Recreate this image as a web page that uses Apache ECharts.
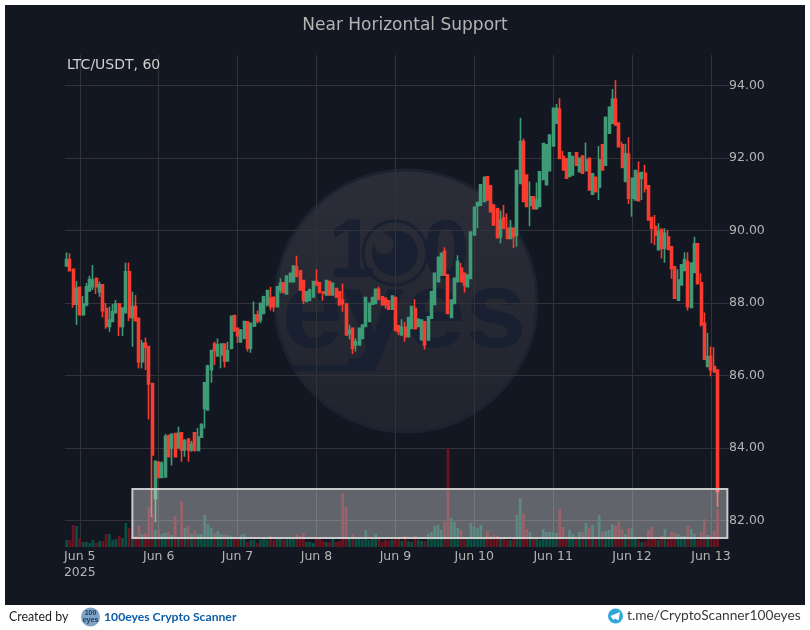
<!DOCTYPE html>
<html>
<head>
    <meta charset="utf-8">
    <title>Near Horizontal Support</title>
    <script src="https://cdn.jsdelivr.net/npm/echarts@6/dist/echarts.min.js"></script>
    <style>
        html, body { margin: 0; padding: 0; background: #fff; }
        #main { width: 810px; height: 630px; }
    </style>
</head>
<body>
<div id="main"></div>
<script>
    // hourly bars, first one is Jun 4 20:00
    var opens = [
        89.02,89.2,88.93,87.97,88.43,87.68,87.95,88.34,88.45,88.68,
        88.31,88.5,87.85,87.35,87.49,87.73,87.97,87.35,87.73,88.86,
        87.6,87.9,87.58,86.38,86.89,86.8,85.78,82.6,83.6,83.19,
        83.2,84.33,84.0,84.4,84.0,84.42,83.95,84.25,83.95,84.42,
        83.93,84.3,85.09,85.05,86.16,86.87,86.54,86.57,86.87,86.4,
        86.75,87.65,87.3,86.93,87.03,87.48,86.75,87.37,87.67,87.53,
        87.71,87.95,88.13,88.16,87.9,88.36,88.56,88.25,88.59,88.59,
        89,88.89,88.62,88.04,88.08,88.17,88.59,88.56,88.31,88.22,
        88.59,88.22,88.4,88.31,88.08,87.97,87.16,87.3,86.84,86.84,
        87.03,87.35,87.49,87.97,87.99,88.38,88.17,88.13,88.06,87.83,
        88.15,87.37,87.12,87.33,87.07,87.3,87.85,87.35,87.0,87.48,
        86.98,87.58,87.96,88.59,88.77,89.42,88.77,87.6,87.99,88.6,
        88.96,88.82,88.45,88.68,89.88,90.68,90.7,90.8,91.48,91.23,
        90.7,90.6,89.83,90.34,90.06,89.78,90.06,89.87,91.3,92.45,
        91.53,90.7,90.93,90.6,90.66,91.41,91.26,91.65,92.33,92.96,
        93.34,92.04,91.98,91.49,91.53,92.14,91.62,92.05,91.65,91.99,
        91,91.47,91.2,92.36,91.8,92.68,92.96,93.62,92.96,92.36,
        91.35,92.11,90.89,90.84,91.58,91.44,91.58,91.23,90.36,90.11,
        89.47,90.03,89.51,89.82,89.55,89,88.08,88.5,88.9,89.14,
        87.88,88.84,89.63,88.56,87.44,86.25,86.52,86.25,86.15
    ];
    var closes = [
        89.2,88.89,87.97,88.4,87.68,87.97,88.45,88.65,88.63,88.45,
        88.5,87.79,87.35,87.53,87.76,87.97,87.35,87.86,88.86,87.6,
        87.9,87.51,86.38,86.89,86.78,85.77,83.81,83.62,83.19,83.58,
        84.31,83.76,84.38,83.76,84.4,83.95,84.2,83.95,84.1,83.95,
        84.3,84.65,85.8,86.26,86.69,86.69,86.85,86.87,86.4,86.68,
        87.63,87.24,87.1,87.25,87.49,86.75,87.44,87.67,87.5,87.99,
        88.17,88.34,87.9,87.9,88.45,88.54,88.29,88.74,88.82,89.02,
        88.73,88.36,88.08,88.31,88.36,88.59,88.5,88.29,88.27,88.62,
        88.22,88.54,88.17,87.95,87.99,87.12,87.25,86.75,86.93,87.3,
        87.39,88.15,87.99,88.15,88.38,88.1,87.95,87.95,87.83,88.19,
        87.24,87.21,87.33,87.07,87.6,87.9,87.3,87.55,87.53,86.84,
        87.62,88.31,88.82,89.26,89.37,88.77,87.71,88.08,88.68,89.14,
        88.59,88.5,88.77,89.96,90.64,90.77,91.26,91.47,90.84,90.52,
        90.15,89.8,90.29,90.06,89.78,90.06,89.83,91.65,92.45,90.8,
        90.66,90.93,90.6,90.84,91.62,92.4,92.36,92.63,93.37,93.37,
        91.99,91.67,91.44,92.14,92.04,91.8,91.99,91.58,91.94,91.12,
        91.56,91.07,91.94,91.67,93.12,93.4,93.62,92.91,92.31,91.74,
        92.11,90.89,91.44,91.65,90.82,91.6,91.16,90.29,90.06,89.87,
        89.97,89.51,89.92,89.48,88.95,88.13,88.63,89.05,89.19,87.9,
        89.1,89.63,88.53,87.4,86.45,86.52,86.15,86.1,82.8
    ];
    var lows = [
        89.02,88.89,87.87,87.39,87.67,87.65,87.9,88.3,88.36,88.25,
        88.17,87.6,87.29,87.21,87.49,87.71,87.09,87.09,87.71,87.5,
        86.79,87.51,86.19,86.2,86.15,84.79,82.1,81.95,83.19,83.19,
        83.19,83.76,83.52,83.76,84.0,83.62,83.76,83.62,83.9,83.9,
        83.93,84.28,84.54,85.05,85.8,86.29,86.54,86.2,86.22,86.4,
        86.72,87.2,86.9,86.9,87.0,86.66,86.63,87.34,87.44,87.44,
        87.7,87.9,87.79,87.76,87.88,88.27,88.27,88.23,88.57,88.57,
        88.72,88.35,87.97,88.02,88.06,88.15,88.48,88.27,88.06,88.2,
        88.2,88.2,88.15,87.93,87.76,87.1,87.0,86.59,86.66,86.82,
        87.0,87.33,87.47,87.95,87.97,88.08,87.93,87.85,87.81,87.81,
        87.22,87.12,87.1,86.93,87.05,87.28,87.26,87.33,86.95,86.72,
        86.96,87.56,87.94,88.57,88.75,88.75,87.69,87.58,87.97,88.56,
        88.57,88.29,88.43,88.66,89.86,90.06,90.68,90.78,90.82,90.5,
        90.13,89.78,89.65,90.04,89.76,89.76,89.52,89.55,91.28,90.78,
        90.64,90.12,90.58,90.58,90.64,91.39,91.24,91.63,92.31,92.94,
        91.97,91.65,91.42,91.47,91.51,91.78,91.6,91.56,91.63,91.1,
        90.98,91.05,90.84,91.65,91.78,92.66,92.94,92.89,92.29,91.72,
        91.33,90.73,90.38,90.82,90.8,90.84,91.05,90.27,89.65,89.6,
        89.45,89.23,89.11,89.46,88.67,88.11,88.06,88.48,88.88,87.79,
        87.86,88.82,88.51,87.35,86.43,86.23,85.98,86.08,82.37
    ];
    var highs = [
        89.39,89.37,88.93,88.61,88.45,88.19,88.55,88.75,89.05,88.68,
        88.59,88.5,88.0,87.9,87.97,88.08,88.0,87.88,89.11,89.12,
        88.31,88.22,87.58,86.98,87.05,86.8,85.78,83.67,83.64,83.63,
        84.39,84.37,84.41,84.42,84.59,84.42,84.25,84.27,84.2,84.42,
        84.55,84.68,85.8,86.3,86.7,86.93,87.02,86.87,86.87,86.93,
        87.65,87.68,87.3,87.28,87.5,87.48,87.44,88.04,87.79,88.0,
        88.2,88.36,88.45,88.18,88.45,88.68,88.58,88.75,88.84,89.03,
        89.3,88.9,88.62,88.33,88.4,88.6,88.93,88.57,88.33,88.63,
        88.6,88.55,88.42,88.32,88.54,87.97,87.4,87.3,87.02,87.32,
        87.41,88.15,88.0,88.17,88.4,88.45,88.19,88.15,88.08,88.2,
        88.17,87.39,87.55,87.48,87.62,87.92,88.1,87.57,87.55,87.5,
        87.64,88.33,88.84,89.28,89.39,89.54,88.8,88.1,88.7,89.32,
        89.1,88.84,88.79,89.98,90.66,90.79,91.28,91.48,91.5,91.25,
        90.72,90.62,90.55,90.7,90.47,90.29,90.08,91.67,93.11,92.54,
        91.55,91.35,90.95,91.32,91.64,92.42,92.38,92.65,93.39,93.49,
        93.65,92.2,92.0,92.16,92.06,92.16,92.01,92.07,92.43,92.01,
        91.58,91.49,92.33,92.38,93.14,93.42,93.9,94.15,92.98,92.45,
        92.39,92.57,91.46,91.67,91.9,91.62,91.81,91.25,90.38,90.43,
        90.2,90.05,90.06,90.01,89.57,89.02,88.93,89.07,89.4,89.4,
        89.12,89.83,89.65,88.82,87.74,87.17,86.8,86.78,86.17
    ];
    var volumes = [
        7,7,22,21,9,5,5,4,7,4,
        6,6,13,13,7,8,11,9,24,19,
        12,11,21,13,14,40,33,17,17,13,
        14,15,12,31,10,46,19,21,13,16,
        13,13,32,23,19,14,16,13,13,12,
        11,8,10,12,13,5,7,7,4,7,
        8,7,11,7,8,8,7,8,8,8,
        13,11,14,5,5,4,10,8,6,5,
        5,8,5,6,54,40,8,13,8,8,
        7,17,7,9,13,8,5,7,6,7,
        10,9,6,11,6,5,11,7,6,6,
        13,15,21,22,17,25,99,29,25,19,
        17,8,8,24,20,19,22,8,16,11,
        12,11,10,8,7,7,8,32,49,33,
        18,15,8,8,7,18,15,15,15,14,
        38,20,10,17,13,9,15,15,24,19,
        22,8,32,15,16,17,23,21,25,18,
        13,19,19,8,7,5,6,17,20,8,
        7,11,18,8,15,14,13,11,11,21,
        18,13,7,15,28,12,12,16,38
    ];
    var tickLabels = ["Jun 5\n2025", "Jun 6", "Jun 7", "Jun 8", "Jun 9", "Jun 10", "Jun 11", "Jun 12", "Jun 13"];
    var priceTicks = [82, 84, 86, 88, 90, 92, 94];
    var zoneTop = 82.87, zoneBottom = 81.52;

    var firstTick = 4, barsPerDay = 24, slotCount = 202;
    var upColor = "#3f9b76", downColor = "#f83c2f";
    var logoDark = "#182031";

    var categories = [], candles = [], volumeBars = [];
    for (var i = 0; i < slotCount; i++) {
        categories.push(isTick(i) ? tickLabels[(i - firstTick) / barsPerDay] : "");
    }
    for (var j = 0; j < opens.length; j++) {
        candles.push([opens[j], closes[j], lows[j], highs[j]]);
        volumeBars.push({
            value: volumes[j],
            itemStyle: { color: closes[j] >= opens[j] ? "#0b4f43" : "#6a1420" }
        });
    }
    function isTick(idx) {
        return idx >= firstTick && (idx - firstTick) % barsPerDay === 0;
    }

    var gridLine = { color: "#323338", width: 1 };

    var option = {
        backgroundColor: "#ffffff",
        animation: false,
        textStyle: { fontFamily: "DejaVu Sans" },
        title: {
            text: "Near Horizontal Support",
            left: 400, top: 12, textAlign: "center",
            textStyle: { color: "#b4b4b4", fontSize: 17, fontWeight: "normal", fontFamily: "DejaVu Sans" }
        },
        grid: { left: 65, top: 55, width: 664, height: 492 },
        xAxis: {
            type: "category",
            data: categories,
            boundaryGap: true,
            axisLine: { show: false },
            axisTick: { show: false },
            axisLabel: {
                interval: function (idx) { return isTick(idx); },
                color: "#b4b4b4", fontSize: 12.5, lineHeight: 16, margin: 2,
                hideOverlap: false
            },
            splitLine: { show: true, alignWithLabel: true, interval: function (idx) { return isTick(idx); }, lineStyle: gridLine }
        },
        yAxis: [
            {
                type: "value",
                position: "right",
                min: 81.27, max: 94.84,
                axisLine: { show: false },
                axisTick: { show: false },
                axisLabel: {
                    customValues: priceTicks,
                    color: "#b4b4b4", fontSize: 12.5, margin: 0, padding: [4, 0, 0, 0],
                    formatter: function (v) { return v.toFixed(2); }
                },
                splitLine: { show: false }
            },
            {
                type: "value",
                min: 0, max: 492,
                show: false
            }
        ],
        graphic: [
            { type: "rect", z: -20, shape: { x: 5, y: 5, width: 800, height: 600 }, style: { fill: "#131722" } },
            // watermark
            {
                type: "circle", z: -19, shape: { cx: 406, cy: 301, r: 131 },
                style: {
                    stroke: "#1c2230", lineWidth: 3,
                    fill: { type: "linear", x: 0, y: 0, x2: 0, y2: 1, colorStops: [{ offset: 0, color: "#2b2e38" }, { offset: 1, color: "#20242e" }] }
                }
            },
            { type: "text", z: -18, x: 404, y: 317, style: { text: "eyes", fill: logoDark, font: "bold 110px 'Liberation Sans'", textAlign: "center", textVerticalAlign: "middle" } },
            { type: "polyline", z: -18, shape: { points: [[293, 368], [373, 368], [393, 320]] }, style: { fill: "none", stroke: logoDark, lineWidth: 6 } },
            { type: "text", z: -18, x: 352, y: 254, style: { text: "1", fill: logoDark, font: "bold 84px 'Liberation Sans'", textAlign: "center", textVerticalAlign: "middle" } },
            { type: "circle", z: -18, shape: { cx: 395, cy: 253, r: 32 }, style: { fill: "none", stroke: logoDark, lineWidth: 3 } },
            { type: "circle", z: -18, shape: { cx: 395, cy: 253, r: 23 }, style: { fill: logoDark } },
            { type: "circle", z: -17, shape: { cx: 384, cy: 244, r: 10 }, style: { fill: "#282b35" } },
            { type: "text", z: -18, x: 446, y: 255, style: { text: "0", fill: logoDark, font: "bold 84px 'Liberation Sans'", textAlign: "center", textVerticalAlign: "middle" } },
            { type: "text", z: 20, x: 67, y: 65, style: { text: "LTC/USDT, 60", fill: "#d0d0d0", font: "14px 'DejaVu Sans'", textVerticalAlign: "middle" } },
            // footer
            { type: "text", x: 9, y: 617, style: { text: "Created by", fill: "#222222", font: "12.4px Lato", textVerticalAlign: "middle" } },
            { type: "circle", shape: { cx: 90.5, cy: 617, r: 9.5 }, style: { fill: "#7fa3c4" } },
            { type: "text", x: 90.5, y: 613, style: { text: "100", fill: "#1c3a5e", font: "bold 7px 'Liberation Sans'", textAlign: "center", textVerticalAlign: "middle" } },
            { type: "text", x: 90.5, y: 620, style: { text: "eyes", fill: "#1c3a5e", font: "bold 7px 'Liberation Sans'", textAlign: "center", textVerticalAlign: "middle" } },
            { type: "text", x: 104, y: 617, style: { text: "100eyes Crypto Scanner", fill: "#0d5ea6", font: "bold 12.2px Lato", textVerticalAlign: "middle" } },
            { type: "circle", shape: { cx: 615.5, cy: 616, r: 7.5 }, style: { fill: "#2fa6da" } },
            { type: "polygon", shape: { points: [[610.5, 616], [620, 612], [618.5, 620.5], [615, 618.5], [613.5, 620]] }, style: { fill: "#ffffff" } },
            { type: "text", x: 627, y: 616, style: { text: "t.me/CryptoScanner100eyes", fill: "#3a3a3a", font: "13.75px Lato", textVerticalAlign: "middle" } }
        ],
        series: [
            {
                name: "Volume",
                type: "bar",
                yAxisIndex: 1,
                barWidth: 2.7,
                z: 2,
                data: volumeBars
            },
            {
                name: "LTC/USDT",
                type: "candlestick",
                yAxisIndex: 0,
                barWidth: 2.5,
                z: 3,
                data: candles,
                itemStyle: {
                    color: upColor, color0: downColor,
                    borderColor: upColor, borderColor0: downColor,
                    borderWidth: 1.6
                },
                markLine: {
                    silent: true, symbol: "none", z: 1, animation: false,
                    label: { show: false },
                    lineStyle: { color: gridLine.color, width: 1, type: "solid" },
                    data: priceTicks.map(function (p) { return { yAxis: p }; })
                },
                markArea: {
                    silent: true, z: 6,
                    itemStyle: { color: "rgba(255,255,255,0.335)", borderColor: "#c9c9c9", borderWidth: 2 },
                    data: [[{ xAxis: 20, yAxis: zoneTop }, { xAxis: 201, yAxis: zoneBottom }]]
                }
            }
        ]
    };

    var myChart = echarts.init(document.getElementById("main"));
    myChart.setOption(option);
</script>
</body>
</html>
